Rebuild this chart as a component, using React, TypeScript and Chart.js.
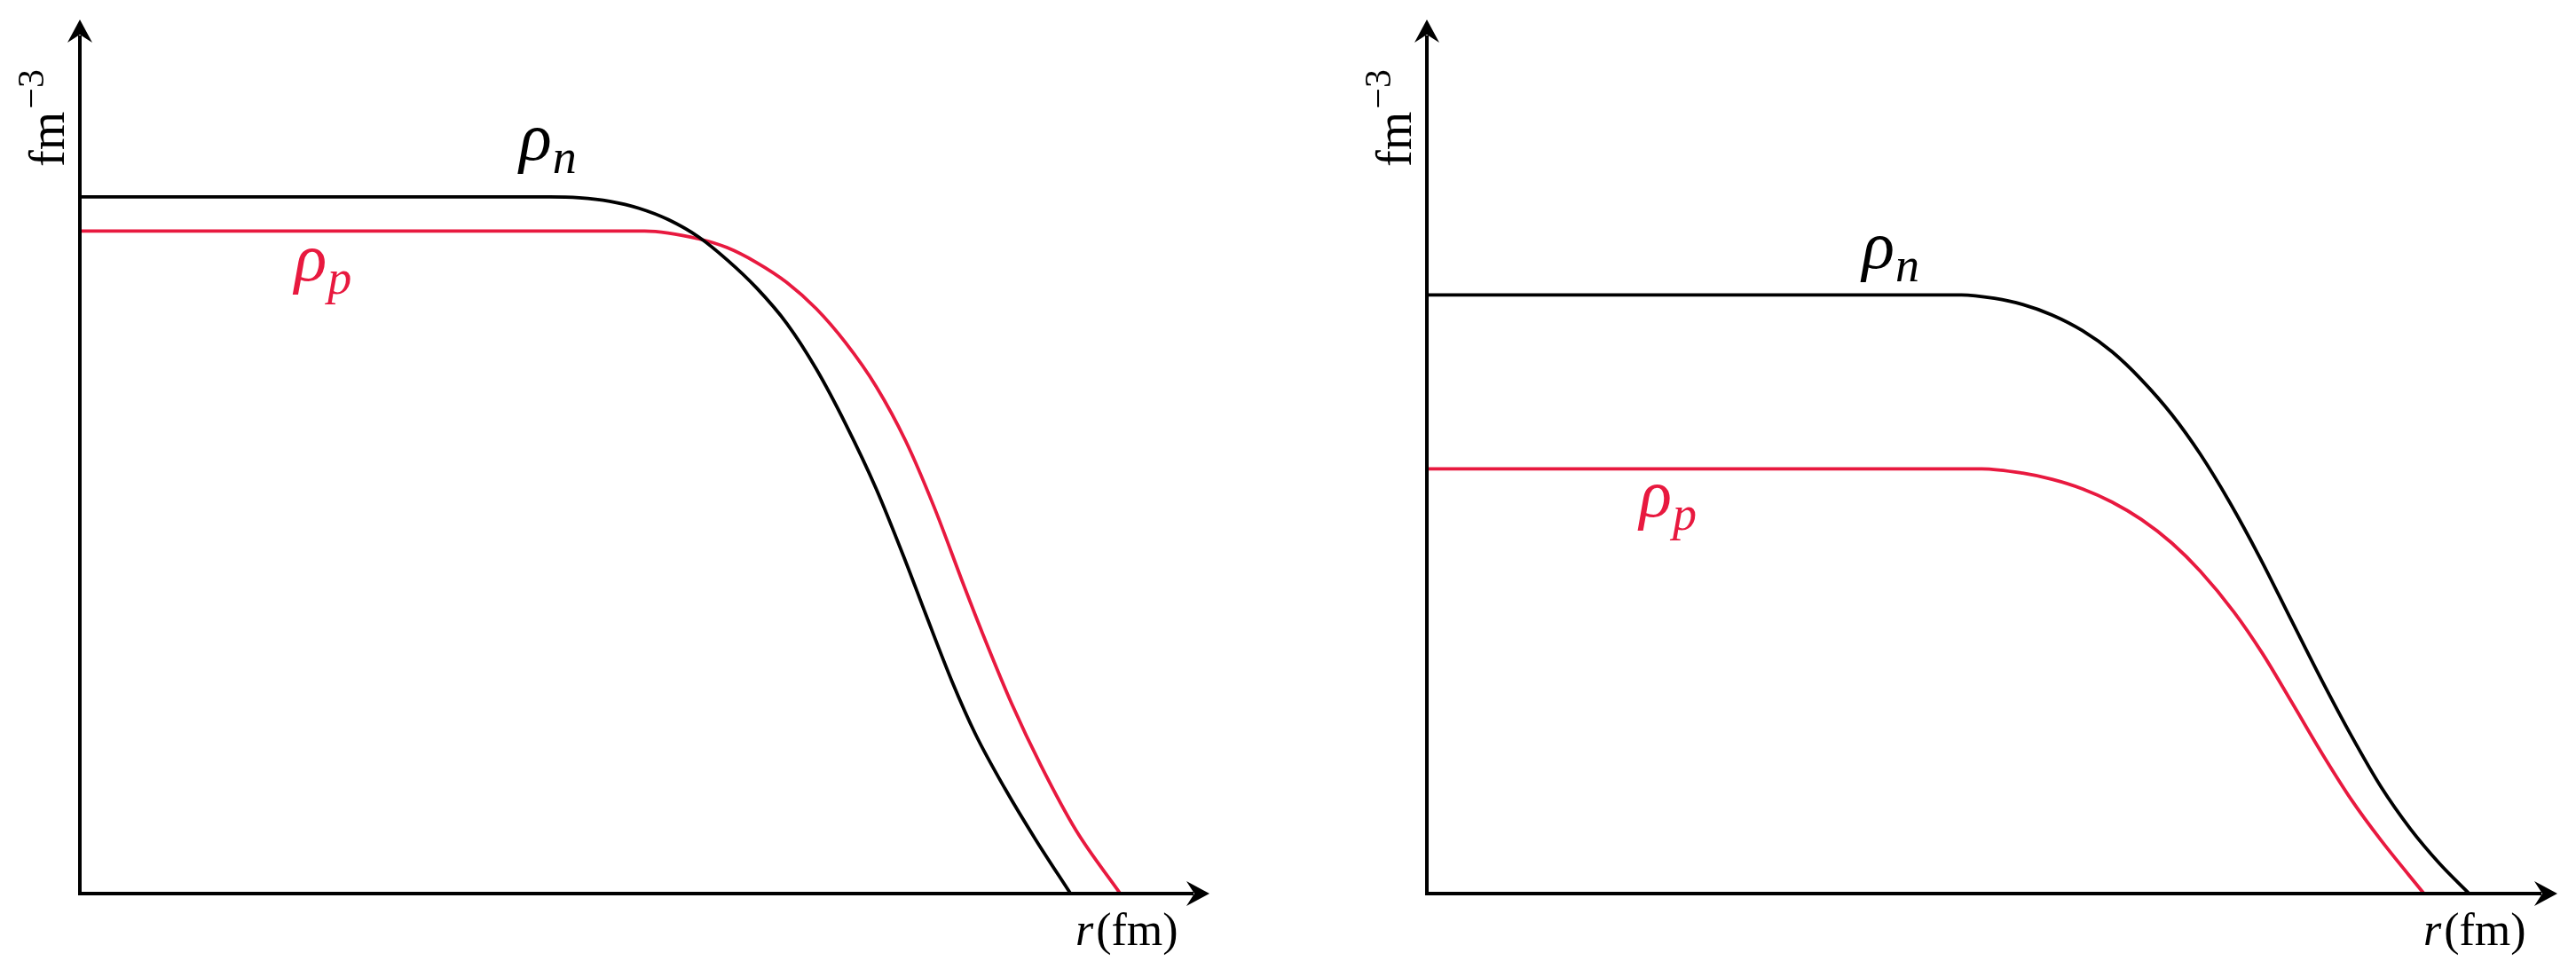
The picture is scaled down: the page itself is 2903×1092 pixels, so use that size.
import React, { useEffect, useRef } from "react";
import { Chart, registerables } from "chart.js";

Chart.register(...registerables);

// ---------- data (r in arbitrary units, 0..10 = arrow tip; rho in arbitrary units, 0..10 = arrow tip) ----------
const leftNeutronR = [0, 4.16, 4.42, 4.69, 4.95, 5.21, 5.48, 5.73, 5.99, 6.26, 6.52, 6.78, 7.05, 7.31, 7.49, 7.72, 7.93, 8.19, 8.46, 8.77];
const leftNeutronRho = [7.97, 7.97, 7.96, 7.92, 7.84, 7.71, 7.51, 7.25, 6.93, 6.52, 6.0, 5.37, 4.63, 3.8, 3.19, 2.43, 1.82, 1.2, 0.62, 0];
const leftProtonR = [0, 5.0, 5.48, 5.73, 5.99, 6.26, 6.52, 6.78, 7.05, 7.31, 7.56, 7.83, 7.99, 8.25, 8.51, 8.82, 9.21];
const leftProtonRho = [7.58, 7.58, 7.49, 7.39, 7.22, 6.99, 6.69, 6.3, 5.8, 5.18, 4.43, 3.51, 2.98, 2.17, 1.46, 0.72, 0];

const rightNeutronR = [0, 4.73, 5.02, 5.27, 5.53, 5.8, 6.06, 6.32, 6.59, 6.84, 7.1, 7.37, 7.65, 7.92, 8.18, 8.44, 8.7, 8.96, 9.22];
const rightNeutronRho = [6.85, 6.85, 6.81, 6.74, 6.62, 6.44, 6.2, 5.88, 5.48, 5.03, 4.48, 3.84, 3.12, 2.43, 1.8, 1.22, 0.74, 0.34, 0];
const rightProtonR = [0, 4.91, 5.27, 5.53, 5.8, 6.06, 6.32, 6.59, 6.84, 7.14, 7.39, 7.65, 7.92, 8.18, 8.44, 8.82];
const rightProtonRho = [4.86, 4.86, 4.81, 4.74, 4.63, 4.48, 4.28, 4.01, 3.69, 3.22, 2.75, 2.19, 1.6, 1.07, 0.61, 0];

const axisMax = 10;
const xAxisLabelItalic = "r";
const xAxisLabelRest = "(fm)";
const yAxisLabelMain = "fm";
const yAxisLabelSup = "\u22123";
const neutronLabel = ["\u03C1", "n"];
const protonLabel = ["\u03C1", "p"];

// label anchors in data units [r, rho]
const leftNeutronLabelAt = [3.89, 8.4];
const leftProtonLabelAt = [1.9, 7.02];
const rightNeutronLabelAt = [3.85, 7.16];
const rightProtonLabelAt = [1.88, 4.31];

const BLACK = "#000000";
const RED = "#E8193F";
const SERIF = '"Liberation Serif", "DejaVu Serif", serif';

function zip(xs: number[], ys: number[]) {
  return xs.map((x, i) => ({ x, y: ys[i] }));
}

function arrowHead(ctx: CanvasRenderingContext2D, tx: number, ty: number, dir: "right" | "up") {
  const L = 26;
  const H = 14;
  const N = 17;
  ctx.save();
  ctx.translate(tx, ty);
  if (dir === "up") ctx.rotate(-Math.PI / 2);
  ctx.beginPath();
  ctx.moveTo(0, 0);
  ctx.lineTo(-L, -H);
  ctx.quadraticCurveTo(-N - 2, -3, -N, 0);
  ctx.quadraticCurveTo(-N - 2, 3, -L, H);
  ctx.closePath();
  ctx.fillStyle = BLACK;
  ctx.fill();
  ctx.restore();
}

function makeOverlay(nLabel: number[], pLabel: number[]) {
  return {
    id: "overlay",
    afterDraw(chart: any) {
      const ctx: CanvasRenderingContext2D = chart.ctx;
      const xs = chart.scales.x;
      const ys = chart.scales.y;
      const x0 = xs.getPixelForValue(0);
      const x1 = xs.getPixelForValue(axisMax);
      const y0 = ys.getPixelForValue(0);
      const y1 = ys.getPixelForValue(axisMax);
      ctx.save();
      // axes
      ctx.strokeStyle = BLACK;
      ctx.lineWidth = 4;
      ctx.lineCap = "butt";
      ctx.beginPath();
      ctx.moveTo(x0 - 2, y0);
      ctx.lineTo(x1 - 18, y0);
      ctx.moveTo(x0, y0 + 2);
      ctx.lineTo(x0, y1 + 18);
      ctx.stroke();
      arrowHead(ctx, x1, y0, "right");
      arrowHead(ctx, x0, y1, "up");

      // x label
      ctx.fillStyle = BLACK;
      ctx.textBaseline = "alphabetic";
      ctx.textAlign = "left";
      const lx = x1 - 151;
      const ly = y0 + 58;
      ctx.font = `italic 52px ${SERIF}`;
      ctx.fillText(xAxisLabelItalic, lx, ly);
      const rw = ctx.measureText(xAxisLabelItalic).width;
      ctx.font = `52px ${SERIF}`;
      ctx.fillText(xAxisLabelRest, lx + rw + 3, ly);

      // y label (rotated)
      ctx.save();
      ctx.translate(x0 - 18, y1 + 166);
      ctx.rotate(-Math.PI / 2);
      ctx.font = `56px ${SERIF}`;
      ctx.fillText(yAxisLabelMain, 0, 0);
      const fw = ctx.measureText(yAxisLabelMain).width;
      ctx.font = `42px ${SERIF}`;
      ctx.fillText(yAxisLabelSup, fw + 3, -23);
      ctx.restore();

      // curve labels
      const drawRho = (at: number[], parts: string[], color: string) => {
        const px = xs.getPixelForValue(at[0]);
        const py = ys.getPixelForValue(at[1]);
        ctx.fillStyle = color;
        ctx.font = `italic 76px ${SERIF}`;
        ctx.fillText(parts[0], px, py);
        const w = ctx.measureText(parts[0]).width;
        ctx.font = `italic 54px ${SERIF}`;
        ctx.fillText(parts[1], px + w + 1, py + 15);
      };
      drawRho(nLabel, neutronLabel, BLACK);
      drawRho(pLabel, protonLabel, RED);
      ctx.restore();
    },
  };
}

type PanelProps = {
  left: number;
  width: number;
  pad: { left: number; right: number; top: number; bottom: number };
  nR: number[];
  nRho: number[];
  pR: number[];
  pRho: number[];
  nLabel: number[];
  pLabel: number[];
};

function Panel(props: PanelProps) {
  const ref = useRef<HTMLCanvasElement | null>(null);
  useEffect(() => {
    if (!ref.current) return;
    const chart = new Chart(ref.current, {
      type: "line",
      data: {
        datasets: [
          {
            label: "rho_n",
            data: zip(props.nR, props.nRho),
            borderColor: BLACK,
            borderWidth: 3.8,
            pointRadius: 0,
            cubicInterpolationMode: "monotone",
            borderJoinStyle: "round",
            fill: false,
            clip: false,
          } as any,
          {
            label: "rho_p",
            data: zip(props.pR, props.pRho),
            borderColor: RED,
            borderWidth: 3.8,
            pointRadius: 0,
            cubicInterpolationMode: "monotone",
            borderJoinStyle: "round",
            fill: false,
            clip: false,
          } as any,
        ],
      },
      options: {
        responsive: false,
        animation: false,
        devicePixelRatio: 1,
        layout: { padding: props.pad },
        plugins: { legend: { display: false }, tooltip: { enabled: false } },
        scales: {
          x: { type: "linear", min: 0, max: axisMax, display: false },
          y: { type: "linear", min: 0, max: axisMax, display: false },
        },
        events: [],
      },
      plugins: [makeOverlay(props.nLabel, props.pLabel)],
    });
    return () => chart.destroy();
  }, []);
  return (
    <canvas
      ref={ref}
      width={props.width}
      height={1092}
      style={{ position: "absolute", left: props.left, top: 0, width: props.width, height: 1092 }}
    />
  );
}

export default function App() {
  return (
    <div style={{ position: "absolute", left: 0, top: 0, width: 2903, height: 1092, background: "#fff", overflow: "hidden" }}>
      <Panel
        left={0}
        width={1450}
        pad={{ left: 90, right: 87, top: 22, bottom: 85 }}
        nR={leftNeutronR}
        nRho={leftNeutronRho}
        pR={leftProtonR}
        pRho={leftProtonRho}
        nLabel={leftNeutronLabelAt}
        pLabel={leftProtonLabelAt}
      />
      <Panel
        left={1450}
        width={1453}
        pad={{ left: 158, right: 21, top: 22, bottom: 85 }}
        nR={rightNeutronR}
        nRho={rightNeutronRho}
        pR={rightProtonR}
        pRho={rightProtonRho}
        nLabel={rightNeutronLabelAt}
        pLabel={rightProtonLabelAt}
      />
    </div>
  );
}
